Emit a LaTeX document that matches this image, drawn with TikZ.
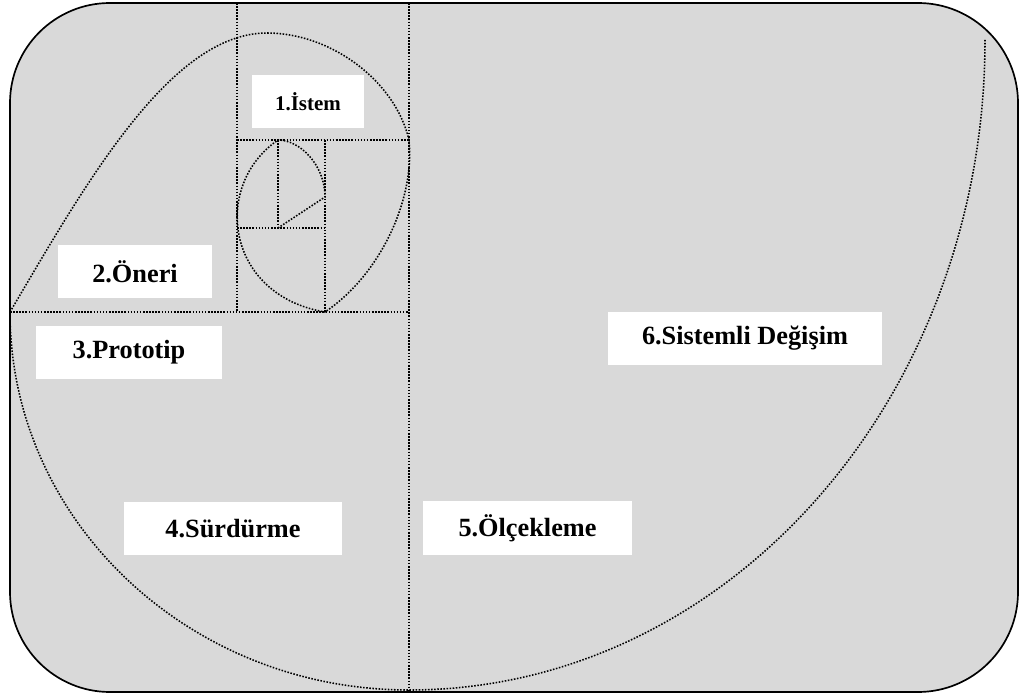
\documentclass[tikz,border=0pt]{standalone}
\usepackage{fontspec}
\setmainfont{Liberation Serif}
\definecolor{panelgray}{RGB}{217,217,217}

\begin{document}
\begin{tikzpicture}[
      x=0.025cm, y=-0.025cm,
      guide/.style={line width=1.1pt, dash pattern=on 1.1pt off 1.1pt},
      phase/.style={fill=white, minimum height=1.325cm, inner sep=0pt,
                    font=\fontsize{18.7}{22}\selectfont\bfseries}
    ]
      \useasboundingbox (0,0) rectangle (1020,695);
      \fill[panelgray, rounded corners=2.5cm] (10,3) rectangle (1018,692);
      % golden rectangles
      \draw[guide] (409,3) -- (409,692);
      \draw[guide] (237,3) -- (237,312);
      \draw[guide] (10,312) -- (409,312);
      \draw[guide] (237,140) -- (409,140);
      \draw[guide] (325,140) -- (325,312);
      \draw[guide] (237,228) -- (325,228);
      \draw[guide] (278,140) -- (278,228);
      % spiral
      \draw[guide] (278,228) -- (325,197)
        .. controls (325,165) and (300,140) .. (278,140)
        .. controls (212,185) and (225,295) .. (325,312)
        .. controls (380,275) and (415,200) .. (409,140)
        .. controls (395,80) and (330,33) .. (267,33)
        .. controls (170,33) and (85,185) .. (10,312)
        .. controls (10,521) and (189,690) .. (409,690)
        .. controls (727,690) and (985,399) .. (985,40);
      \draw[line width=1.2pt, rounded corners=2.5cm] (10,3) rectangle (1018,692);
      \node[phase, minimum width=2.8cm, font=\fontsize{14.9}{18}\selectfont\bfseries]
        (istem) at (308,101.5) {1.İstem};
      \node[phase, minimum width=3.85cm] (oneri) at (135,271.5) {2.Öneri};
      \node[phase, minimum width=4.65cm] (prototip) at (129,352.5) {3.Prototip};
      \node[phase, minimum width=5.45cm] (surdurme) at (233,528.5) {4.Sürdürme};
      \node[phase, minimum width=5.225cm] (olcekleme) at (527.5,528) {5.Ölçekleme};
      \node[phase, minimum width=6.85cm] (degisim) at (745,338.5) {6.Sistemli Değişim};
    \end{tikzpicture}
\end{document}
